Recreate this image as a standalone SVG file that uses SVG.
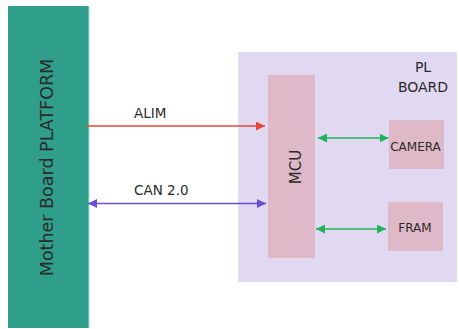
<svg xmlns="http://www.w3.org/2000/svg" width="459" height="329" viewBox="0 0 459 329">
<defs>
<style>
text{font-family:"DejaVu Sans","Verdana",sans-serif;fill:#2b2b2b}
.lbl{font-size:13.5px}
.small{font-size:12px}
.line{fill:none;stroke-width:1.4}
</style>
<marker id="ahRed" viewBox="0 0 10 10" refX="10" refY="5" markerWidth="9" markerHeight="9" markerUnits="userSpaceOnUse" orient="auto-start-reverse"><path d="M0,0 L10,5 L0,10 z" fill="#e5473a"/></marker>
<marker id="ahPurple" viewBox="0 0 10 10" refX="10" refY="5" markerWidth="9" markerHeight="9" markerUnits="userSpaceOnUse" orient="auto-start-reverse"><path d="M0,0 L10,5 L0,10 z" fill="#6a4fd2"/></marker>
<marker id="ahGreen" viewBox="0 0 10 10" refX="10" refY="5" markerWidth="9" markerHeight="9" markerUnits="userSpaceOnUse" orient="auto-start-reverse"><path d="M0,0 L10,5 L0,10 z" fill="#1fb45a"/></marker>
</defs>
<rect width="459" height="329" fill="#ffffff"/>
<g id="motherboard">
<rect x="8" y="6" width="81" height="322" fill="#2f9f8c"/>
<line x1="89" y1="6" x2="89" y2="328" stroke="#a8e0d6" stroke-width="1"/>
<text x="52.5" y="167.5" font-size="17.5" text-anchor="middle" transform="rotate(-90 52.5 167.5)">Mother Board PLATFORM</text>
</g>
<g id="plboard">
<rect x="238" y="52" width="219" height="230" fill="#e1d9f1"/>
<text x="423" y="72" font-size="14" text-anchor="middle">PL</text>
<text x="423" y="92" font-size="14" text-anchor="middle">BOARD</text>
</g>
<g id="mcu">
<rect x="268" y="75" width="47" height="183" fill="#dfb9c8"/>
<text x="301" y="167" font-size="15" text-anchor="middle" transform="rotate(-90 301 167)">MCU</text>
</g>
<g id="camera">
<rect x="389" y="120" width="55" height="49" fill="#dfb9c8"/>
<text x="415.5" y="151" class="small" text-anchor="middle">CAMERA</text>
</g>
<g id="fram">
<rect x="388" y="202" width="55" height="49" fill="#dfb9c8"/>
<text x="415" y="232" class="small" text-anchor="middle">FRAM</text>
</g>
<g id="connectors">
<line class="line" x1="86" y1="126" x2="265" y2="126" stroke="#e5473a" marker-end="url(#ahRed)"/>
<text x="134" y="118" class="lbl">ALIM</text>
<line class="line" x1="88" y1="203.5" x2="266" y2="203.5" stroke="#6a4fd2" marker-start="url(#ahPurple)" marker-end="url(#ahPurple)"/>
<text x="134" y="195" class="lbl">CAN 2.0</text>
<line class="line" x1="318" y1="138" x2="388.5" y2="138" stroke="#1fb45a" stroke-width="1.8" marker-start="url(#ahGreen)" marker-end="url(#ahGreen)"/>
<line class="line" x1="316" y1="229" x2="386" y2="229" stroke="#1fb45a" stroke-width="1.8" marker-start="url(#ahGreen)" marker-end="url(#ahGreen)"/>
</g>
</svg>
